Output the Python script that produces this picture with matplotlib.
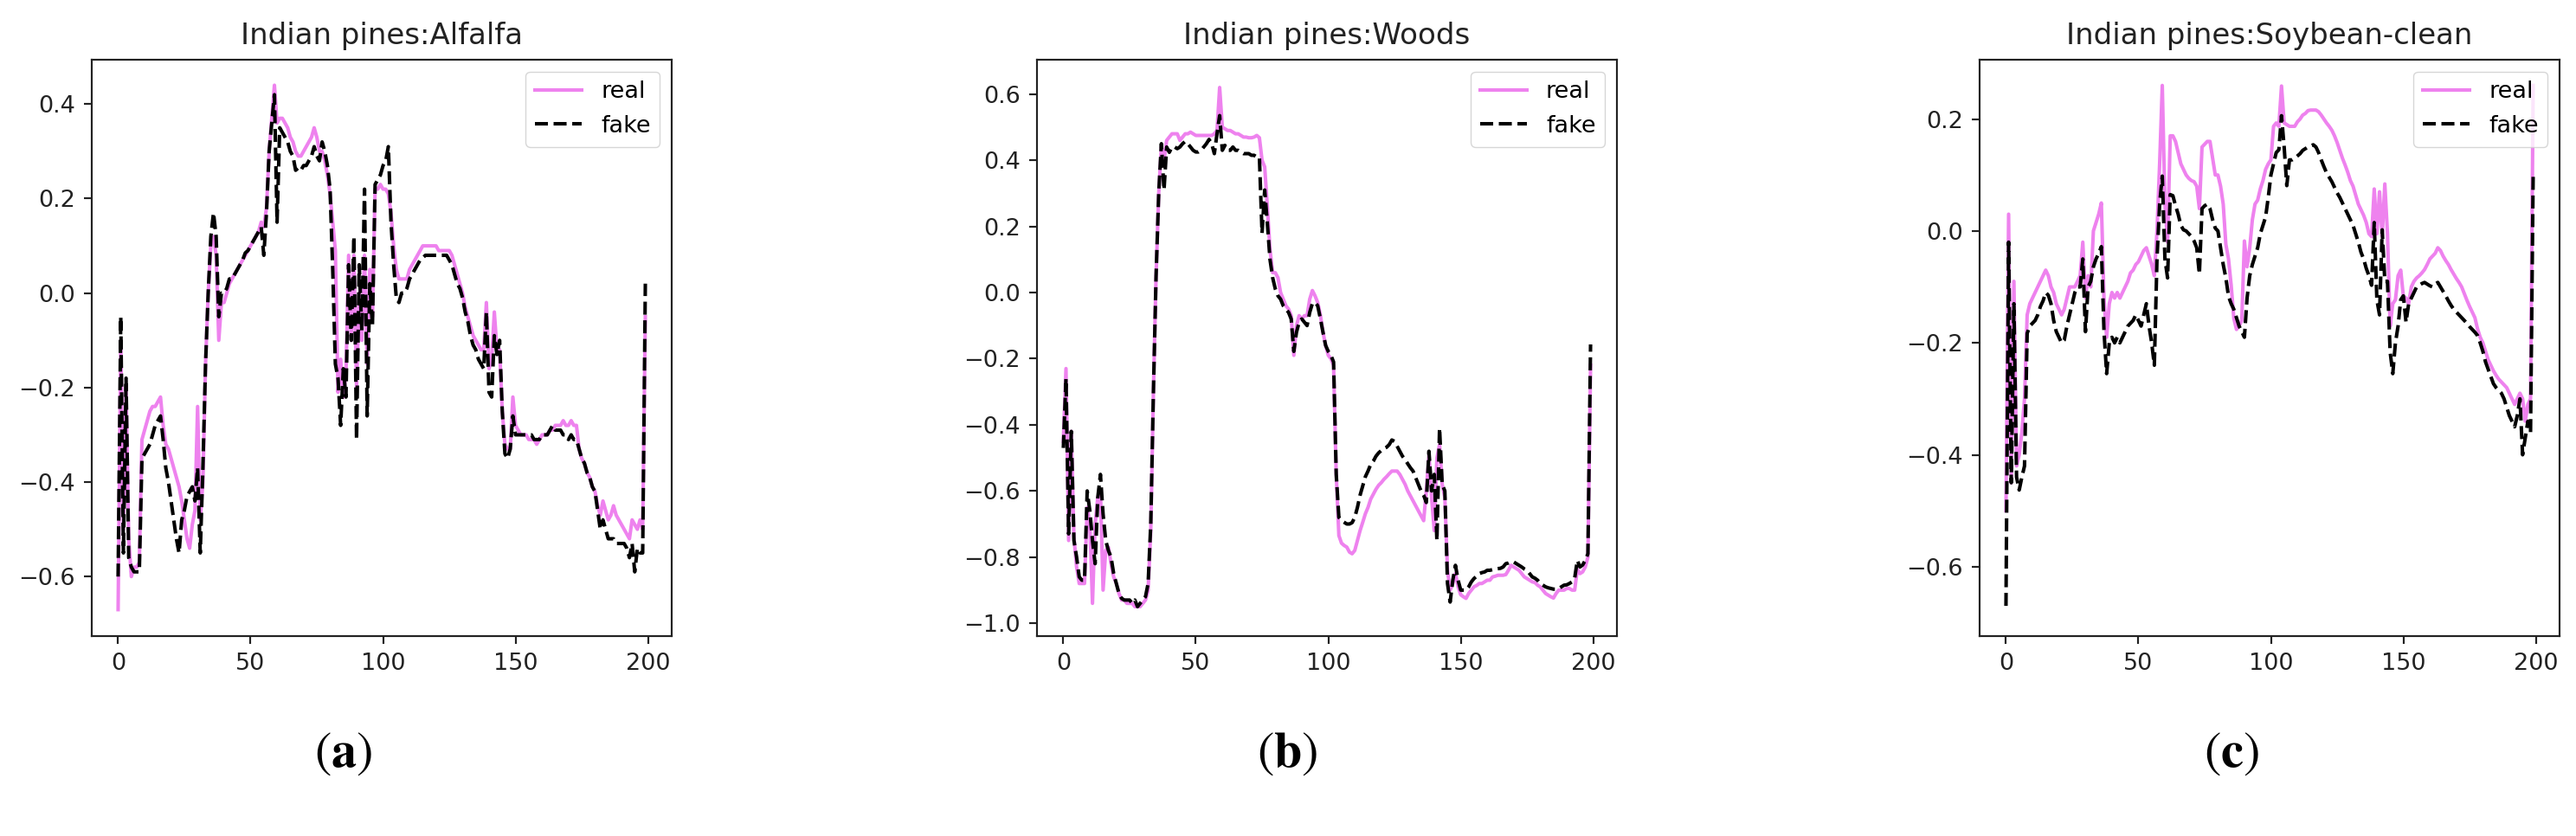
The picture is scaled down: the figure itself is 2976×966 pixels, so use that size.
import matplotlib
matplotlib.use("Agg")
import matplotlib.pyplot as plt
import numpy as np

# scale factor: the source figure was drawn at a larger dpi than 72
S = 1.95
plt.rcParams["mathtext.fontset"] = "stix"

bands = np.arange(200)

titles = ["Indian pines:Alfalfa", "Indian pines:Woods", "Indian pines:Soybean-clean"]
panel_tags = ["a", "b", "c"]

# ── (a) Alfalfa ──────────────────────────────────────────────────────────
real_a = [
    -0.67, -0.10, -0.50, -0.20, -0.52, -0.60, -0.58, -0.58, -0.57, -0.31,
    -0.29, -0.27, -0.25, -0.24, -0.24, -0.23, -0.22, -0.28, -0.32, -0.33,
    -0.35, -0.37, -0.39, -0.41, -0.44, -0.48, -0.52, -0.54, -0.49, -0.46,
    -0.24, -0.48, -0.40, -0.15, 0.00, 0.10, 0.12, 0.08, -0.10, -0.02,
    -0.02, 0.00, 0.02, 0.03, 0.04, 0.05, 0.06, 0.07, 0.08, 0.09,
    0.10, 0.11, 0.12, 0.13, 0.15, 0.14, 0.18, 0.30, 0.37, 0.44,
    0.36, 0.37, 0.37, 0.36, 0.35, 0.33, 0.32, 0.30, 0.29, 0.29,
    0.30, 0.31, 0.32, 0.33, 0.35, 0.33, 0.30, 0.30, 0.28, 0.25,
    0.21, 0.15, 0.09, -0.21, -0.14, -0.22, -0.17, 0.08, -0.10, 0.08,
    -0.20, 0.00, -0.10, 0.08, -0.15, 0.05, -0.05, 0.22, 0.22, 0.23,
    0.22, 0.22, 0.21, 0.17, 0.10, 0.05, 0.03, 0.03, 0.03, 0.03,
    0.05, 0.06, 0.07, 0.08, 0.09, 0.10, 0.10, 0.10, 0.10, 0.10,
    0.10, 0.09, 0.09, 0.09, 0.09, 0.09, 0.08, 0.06, 0.04, 0.02,
    0.00, -0.03, -0.05, -0.07, -0.09, -0.10, -0.11, -0.12, -0.12, -0.02,
    -0.16, -0.14, -0.04, -0.12, -0.12, -0.25, -0.32, -0.33, -0.33, -0.22,
    -0.28, -0.29, -0.30, -0.30, -0.30, -0.31, -0.31, -0.31, -0.32, -0.31,
    -0.30, -0.30, -0.30, -0.29, -0.29, -0.28, -0.28, -0.28, -0.27, -0.28,
    -0.28, -0.27, -0.28, -0.28, -0.33, -0.35, -0.36, -0.38, -0.39, -0.41,
    -0.42, -0.45, -0.47, -0.44, -0.46, -0.48, -0.47, -0.45, -0.47, -0.48,
    -0.49, -0.50, -0.51, -0.52, -0.48, -0.49, -0.50, -0.48, -0.50, -0.05,
]
fake_a = [
    -0.60, -0.05, -0.55, -0.18, -0.56, -0.58, -0.59, -0.59, -0.59, -0.35,
    -0.34, -0.33, -0.32, -0.30, -0.28, -0.27, -0.26, -0.31, -0.37, -0.40,
    -0.44, -0.48, -0.52, -0.55, -0.48, -0.46, -0.43, -0.42, -0.41, -0.44,
    -0.37, -0.55, -0.37, -0.15, 0.00, 0.12, 0.17, 0.12, -0.05, 0.00,
    0.00, 0.01, 0.03, 0.03, 0.04, 0.05, 0.06, 0.07, 0.085, 0.09,
    0.10, 0.11, 0.12, 0.13, 0.14, 0.08, 0.17, 0.30, 0.36, 0.42,
    0.15, 0.35, 0.34, 0.33, 0.32, 0.30, 0.29, 0.26, 0.265, 0.26,
    0.27, 0.27, 0.28, 0.29, 0.31, 0.29, 0.28, 0.32, 0.30, 0.27,
    0.22, 0.05, -0.15, -0.18, -0.28, -0.16, -0.22, 0.06, -0.10, 0.12,
    -0.31, 0.06, -0.08, 0.22, -0.26, 0.02, -0.07, 0.23, 0.24, 0.25,
    0.27, 0.28, 0.31, 0.15, 0.06, -0.01, -0.02, 0.00, 0.00, 0.01,
    0.03, 0.04, 0.05, 0.06, 0.07, 0.075, 0.08, 0.08, 0.08, 0.08,
    0.08, 0.08, 0.08, 0.08, 0.08, 0.07, 0.06, 0.04, 0.02, 0.01,
    -0.01, -0.04, -0.06, -0.09, -0.11, -0.12, -0.14, -0.15, -0.16, -0.04,
    -0.21, -0.22, -0.09, -0.13, -0.10, -0.25, -0.34, -0.35, -0.33, -0.26,
    -0.30, -0.30, -0.30, -0.30, -0.30, -0.30, -0.30, -0.31, -0.31, -0.31,
    -0.30, -0.30, -0.30, -0.29, -0.28, -0.29, -0.29, -0.29, -0.30, -0.30,
    -0.31, -0.30, -0.31, -0.31, -0.33, -0.35, -0.36, -0.38, -0.39, -0.41,
    -0.42, -0.46, -0.50, -0.48, -0.50, -0.52, -0.52, -0.52, -0.53, -0.53,
    -0.53, -0.53, -0.54, -0.56, -0.53, -0.59, -0.54, -0.55, -0.55, 0.02,
]

# ── (b) Woods ────────────────────────────────────────────────────────────
real_b = [
    -0.45, -0.23, -0.75, -0.42, -0.74, -0.83, -0.88, -0.88, -0.88, -0.65,
    -0.70, -0.94, -0.70, -0.62, -0.60, -0.90, -0.78, -0.77, -0.82, -0.86,
    -0.88, -0.91, -0.93, -0.93, -0.94, -0.94, -0.94, -0.95, -0.95, -0.95,
    -0.94, -0.93, -0.90, -0.72, -0.30, 0.05, 0.30, 0.44, 0.40, 0.46,
    0.47, 0.48, 0.48, 0.48, 0.46, 0.47, 0.48, 0.48, 0.485, 0.48,
    0.475, 0.475, 0.475, 0.475, 0.475, 0.475, 0.475, 0.48, 0.49, 0.62,
    0.50, 0.495, 0.49, 0.49, 0.485, 0.48, 0.48, 0.475, 0.47, 0.47,
    0.468, 0.468, 0.47, 0.475, 0.468, 0.40, 0.38, 0.26, 0.13, 0.06,
    0.06, 0.045, 0.00, -0.02, -0.04, -0.05, -0.07, -0.19, -0.10, -0.07,
    -0.08, -0.07, -0.07, -0.02, 0.006, -0.01, -0.03, -0.067, -0.12, -0.16,
    -0.19, -0.20, -0.22, -0.55, -0.735, -0.758, -0.765, -0.77, -0.785, -0.79,
    -0.78, -0.75, -0.72, -0.695, -0.669, -0.65, -0.625, -0.61, -0.595, -0.583,
    -0.575, -0.565, -0.557, -0.548, -0.54, -0.54, -0.54, -0.55, -0.565, -0.58,
    -0.60, -0.615, -0.63, -0.645, -0.66, -0.675, -0.69, -0.60, -0.49, -0.62,
    -0.72, -0.50, -0.46, -0.58, -0.62, -0.84, -0.90, -0.88, -0.85, -0.89,
    -0.914, -0.92, -0.925, -0.91, -0.90, -0.89, -0.886, -0.88, -0.88, -0.875,
    -0.87, -0.87, -0.86, -0.858, -0.855, -0.855, -0.855, -0.853, -0.84, -0.825,
    -0.83, -0.835, -0.84, -0.85, -0.86, -0.865, -0.87, -0.875, -0.877, -0.885,
    -0.89, -0.90, -0.91, -0.915, -0.92, -0.924, -0.91, -0.90, -0.90, -0.90,
    -0.895, -0.895, -0.90, -0.90, -0.837, -0.85, -0.845, -0.83, -0.80, -0.22,
]
fake_b = [
    -0.47, -0.26, -0.73, -0.42, -0.75, -0.80, -0.86, -0.87, -0.87, -0.60,
    -0.66, -0.75, -0.82, -0.62, -0.55, -0.67, -0.75, -0.78, -0.80, -0.85,
    -0.88, -0.91, -0.925, -0.93, -0.93, -0.93, -0.94, -0.93, -0.95, -0.94,
    -0.93, -0.92, -0.88, -0.70, -0.30, 0.05, 0.30, 0.45, 0.31, 0.44,
    0.424, 0.44, 0.44, 0.435, 0.44, 0.45, 0.457, 0.45, 0.44, 0.43,
    0.425, 0.425, 0.43, 0.44, 0.45, 0.463, 0.45, 0.42, 0.48, 0.535,
    0.43, 0.445, 0.43, 0.43, 0.44, 0.43, 0.43, 0.425, 0.42, 0.42,
    0.42, 0.415, 0.415, 0.41, 0.41, 0.18, 0.31, 0.21, 0.10, 0.045,
    0.011, -0.01, -0.02, -0.04, -0.05, -0.06, -0.08, -0.178, -0.12, -0.09,
    -0.08, -0.09, -0.10, -0.06, -0.033, -0.03, -0.04, -0.078, -0.12, -0.16,
    -0.178, -0.19, -0.21, -0.55, -0.68, -0.69, -0.695, -0.70, -0.70, -0.696,
    -0.68, -0.65, -0.613, -0.585, -0.557, -0.54, -0.52, -0.51, -0.495, -0.485,
    -0.478, -0.472, -0.468, -0.46, -0.446, -0.45, -0.465, -0.48, -0.495, -0.505,
    -0.518, -0.53, -0.54, -0.56, -0.58, -0.60, -0.613, -0.635, -0.48, -0.60,
    -0.55, -0.75, -0.41, -0.58, -0.60, -0.88, -0.936, -0.87, -0.825, -0.87,
    -0.90, -0.90, -0.90, -0.89, -0.875, -0.865, -0.858, -0.85, -0.847, -0.845,
    -0.84, -0.84, -0.838, -0.836, -0.835, -0.834, -0.83, -0.82, -0.818, -0.814,
    -0.815, -0.82, -0.825, -0.83, -0.836, -0.84, -0.85, -0.86, -0.864, -0.87,
    -0.88, -0.885, -0.89, -0.893, -0.895, -0.897, -0.897, -0.895, -0.89, -0.885,
    -0.884, -0.88, -0.875, -0.864, -0.81, -0.83, -0.824, -0.81, -0.79, -0.157,
]

# ── (c) Soybean-clean ────────────────────────────────────────────────────
real_c = [
    -0.50, 0.03, -0.45, -0.09, -0.42, -0.40, -0.36, -0.30, -0.15, -0.13,
    -0.12, -0.11, -0.10, -0.09, -0.08, -0.07, -0.08, -0.10, -0.11, -0.13,
    -0.14, -0.15, -0.14, -0.12, -0.10, -0.10, -0.10, -0.09, -0.08, -0.02,
    -0.12, -0.08, -0.10, 0.00, 0.015, 0.03, 0.05, -0.12, -0.19, -0.13,
    -0.11, -0.12, -0.11, -0.12, -0.11, -0.10, -0.09, -0.075, -0.07, -0.06,
    -0.055, -0.045, -0.035, -0.03, -0.045, -0.06, -0.08, 0.00, 0.12, 0.26,
    0.05, -0.02, 0.17, 0.17, 0.16, 0.14, 0.12, 0.11, 0.10, 0.094,
    0.09, 0.088, 0.08, 0.04, 0.15, 0.155, 0.16, 0.16, 0.13, 0.10,
    0.10, 0.08, 0.048, -0.024, -0.05, -0.097, -0.156, -0.176, -0.17, -0.16,
    -0.018, -0.064, -0.03, 0.02, 0.048, 0.055, 0.075, 0.09, 0.11, 0.12,
    0.127, 0.187, 0.193, 0.187, 0.259, 0.193, 0.19, 0.187, 0.187, 0.187,
    0.195, 0.20, 0.207, 0.21, 0.215, 0.216, 0.216, 0.216, 0.213, 0.207,
    0.20, 0.193, 0.187, 0.18, 0.17, 0.158, 0.144, 0.13, 0.118, 0.105,
    0.09, 0.08, 0.064, 0.048, 0.038, 0.028, 0.015, -0.005, -0.01, 0.075,
    -0.005, 0.07, -0.01, 0.084, -0.005, -0.17, -0.13, -0.123, -0.08, -0.07,
    -0.117, -0.12, -0.13, -0.10, -0.09, -0.084, -0.08, -0.075, -0.069, -0.06,
    -0.05, -0.045, -0.04, -0.03, -0.035, -0.045, -0.053, -0.06, -0.069, -0.077,
    -0.085, -0.092, -0.10, -0.112, -0.124, -0.135, -0.145, -0.155, -0.175, -0.19,
    -0.20, -0.215, -0.23, -0.24, -0.25, -0.258, -0.265, -0.27, -0.275, -0.28,
    -0.29, -0.30, -0.31, -0.30, -0.29, -0.30, -0.34, -0.31, -0.30, 0.26,
]
fake_c = [
    -0.67, -0.02, -0.45, -0.13, -0.44, -0.463, -0.44, -0.42, -0.183, -0.17,
    -0.165, -0.16, -0.15, -0.135, -0.125, -0.11, -0.115, -0.13, -0.16, -0.18,
    -0.19, -0.20, -0.195, -0.17, -0.15, -0.13, -0.11, -0.10, -0.10, -0.05,
    -0.18, -0.10, -0.09, -0.064, -0.05, -0.04, -0.028, -0.18, -0.255, -0.20,
    -0.19, -0.20, -0.19, -0.20, -0.19, -0.18, -0.17, -0.165, -0.16, -0.15,
    -0.16, -0.17, -0.15, -0.13, -0.17, -0.20, -0.24, -0.05, 0.048, 0.098,
    -0.05, -0.084, 0.065, 0.063, 0.045, 0.03, 0.01, 0.002, 0.00, -0.005,
    -0.01, -0.018, -0.03, -0.077, 0.04, 0.045, 0.048, 0.04, 0.02, 0.005,
    0.00, -0.03, -0.06, -0.084, -0.117, -0.13, -0.14, -0.155, -0.17, -0.18,
    -0.19, -0.12, -0.08, -0.06, -0.045, -0.03, -0.005, 0.01, 0.025, 0.06,
    0.10, 0.12, 0.14, 0.145, 0.206, 0.15, 0.081, 0.127, 0.127, 0.13,
    0.134, 0.138, 0.144, 0.147, 0.15, 0.152, 0.154, 0.15, 0.14, 0.127,
    0.115, 0.104, 0.096, 0.088, 0.078, 0.068, 0.06, 0.05, 0.04, 0.03,
    0.02, 0.01, -0.005, -0.02, -0.038, -0.05, -0.067, -0.08, -0.097, 0.015,
    -0.123, -0.15, 0.002, -0.09, -0.09, -0.216, -0.255, -0.20, -0.17, -0.123,
    -0.116, -0.163, -0.13, -0.12, -0.11, -0.10, -0.097, -0.094, -0.092, -0.095,
    -0.098, -0.10, -0.095, -0.092, -0.10, -0.108, -0.116, -0.125, -0.133, -0.14,
    -0.145, -0.15, -0.155, -0.16, -0.165, -0.171, -0.176, -0.181, -0.187, -0.20,
    -0.215, -0.234, -0.247, -0.26, -0.273, -0.28, -0.285, -0.29, -0.30, -0.315,
    -0.33, -0.34, -0.35, -0.33, -0.30, -0.40, -0.37, -0.34, -0.36, 0.105,
]

reals = [real_a, real_b, real_c]
fakes = [fake_a, fake_b, fake_c]
ylims = [(-0.726, 0.494), (-1.039, 0.704), (-0.724, 0.306)]

fig = plt.figure(figsize=(29.76, 9.66), dpi=100)

lefts = [106, 1198, 2287]
W, H = 2976, 966
ax_w, ax_top, ax_bot = 670, 69, 735
tag_x = [397, 1487, 2578]

for k in range(3):
    ax = fig.add_axes([lefts[k] / W, 1 - ax_bot / H, ax_w / W, (ax_bot - ax_top) / H])
    ax.plot(bands, reals[k], color="violet", lw=1.5 * S, label="real")
    ax.plot(bands, fakes[k], "k--", lw=1.5 * S, label="fake")
    ax.set_ylim(*ylims[k])
    ax.set_xticks([0, 50, 100, 150, 200])
    ax.set_title(titles[k], fontsize=24.5, color="#222222", pad=13)
    ax.tick_params(labelsize=10 * S, length=3.5 * S, width=0.8 * S,
                   pad=3.5 * S, colors="#222222")
    for sp in ax.spines.values():
        sp.set_linewidth(0.8 * S)
        sp.set_color("#222222")
    ax.legend(loc="upper right", fontsize=10 * S, borderaxespad=0.5,
              handlelength=2.0)

    fig.text(tag_x[k] / W, 1 - 869 / H, r"$(\mathbf{%s})$" % panel_tags[k],
             ha="center", va="center", fontsize=42)

fig.savefig("out.png", dpi=100)
plt.close(fig)
